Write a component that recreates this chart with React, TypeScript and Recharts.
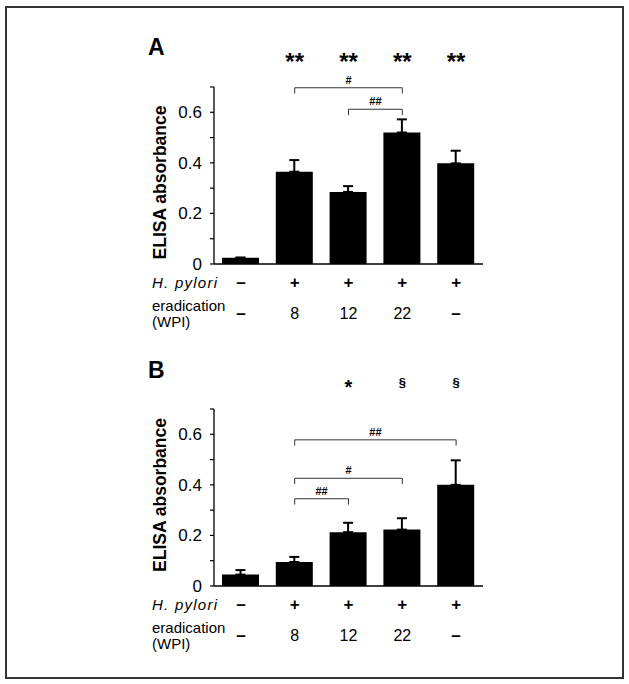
import React from "react";
import {
  BarChart,
  Bar,
  XAxis,
  YAxis,
  ErrorBar,
  ReferenceLine,
  ReferenceDot,
} from "recharts";

// Groups along the x axis
const groups = ["uninfected", "erad8", "erad12", "erad22", "infected"];
const hPyloriMarks = ["–", "+", "+", "+", "+"];
const eradicationWpi = ["–", "8", "12", "22", "–"];
const yTicks = [0, 0.1, 0.2, 0.3, 0.4, 0.5, 0.6, 0.7];

// Panel A
const meanA = [0.025, 0.365, 0.285, 0.52, 0.398];
const semA = [0, 0.046, 0.023, 0.052, 0.05];
const starsA = ["", "**", "**", "**", "**"];
const bracketsA = [
  { from: 1, to: 3, level: 0.697, label: "#" },
  { from: 2, to: 3, level: 0.612, label: "##" },
];

// Panel B
const meanB = [0.045, 0.095, 0.213, 0.223, 0.4];
const semB = [0.018, 0.02, 0.037, 0.045, 0.097];
const starsB = ["", "", "*", "§", "§"];
const bracketsB = [
  { from: 1, to: 4, level: 0.578, label: "##" },
  { from: 1, to: 3, level: 0.426, label: "#" },
  { from: 1, to: 2, level: 0.345, label: "##" },
];

const FONT = '"Liberation Sans", Arial, Helvetica, sans-serif';
const STAR_LEVEL = 0.8;
const DROP = 0.023;

function GroupTick(props: any) {
  const { x, y, index } = props;
  const mark = hPyloriMarks[index];
  const erad = eradicationWpi[index];
  return (
    <g fontFamily={FONT} fill="#000">
      <text x={x} y={y + 23.5} textAnchor="middle" fontSize={17} fontWeight="bold">
        {mark}
      </text>
      <text
        x={x}
        y={y + 55}
        textAnchor="middle"
        fontSize={erad === "–" ? 17 : 16}
        fontWeight={erad === "–" ? "bold" : "normal"}
      >
        {erad}
      </text>
      {index === 0 && (
        <g>
          <text x={152} y={y + 23.5} fontSize={15} fontStyle="italic" textLength={65} lengthAdjust="spacing">
            H. pylori
          </text>
          <text x={152} y={y + 46.5} fontSize={15}>
            eradication
          </text>
          <text x={152} y={y + 63} fontSize={15}>
            (WPI)
          </text>
        </g>
      )}
    </g>
  );
}

function Panel({
  letter,
  means,
  sems,
  stars,
  brackets,
  height,
  top,
  xAxisHeight,
  letterY,
  labelY,
  starSize,
  starShift,
}: {
  letter: string;
  means: number[];
  sems: number[];
  stars: string[];
  brackets: { from: number; to: number; level: number; label: string }[];
  height: number;
  top: number;
  xAxisHeight: number;
  letterY: number;
  labelY: number;
  starSize: number;
  starShift: number;
}) {
  const data = groups.map((g, i) => ({ group: g, mean: means[i], err: [0, sems[i]] }));
  return (
    <div style={{ position: "absolute", left: 0, top }}>
      <BarChart
        width={629}
        height={height}
        data={data}
        margin={{ top: height - xAxisHeight - 177, right: 146, bottom: 0, left: 0 }}
      >
        <XAxis
          dataKey="group"
          height={xAxisHeight}
          axisLine={{ stroke: "#000", strokeWidth: 1.3 }}
          tickLine={false}
          tickSize={0}
          tickMargin={0}
          interval={0}
          tick={<GroupTick />}
        />
        <YAxis
          width={214}
          domain={[0, 0.7]}
          ticks={yTicks}
          interval={0}
          axisLine={{ stroke: "#000", strokeWidth: 1.3 }}
          tickLine={{ stroke: "#000", strokeWidth: 1.2 }}
          tickSize={4}
          tickMargin={8}
          tick={{ fill: "#000", fontSize: 17, fontFamily: FONT }}
          tickFormatter={(v: number) => {
            const t = Math.round(v * 10);
            if (t % 2 !== 0 || t === 7) return "";
            return t === 0 ? "0" : v.toFixed(1);
          }}
          label={{
            content: () => (
              <g fontFamily={FONT} fill="#000" fontWeight="bold">
                <text x={148} y={letterY} fontSize={23}>
                  {letter}
                </text>
                <text
                  transform={`translate(166, ${labelY}) rotate(-90)`}
                  textAnchor="middle"
                  fontSize={17.5}
                >
                  ELISA absorbance
                </text>
              </g>
            ),
          }}
        />
        <Bar dataKey="mean" fill="#000" barSize={37} isAnimationActive={false}>
          <ErrorBar dataKey="err" width={5} stroke="#000" strokeWidth={2} direction="y" />
        </Bar>
        {brackets.map((b, i) => (
          <ReferenceLine
            key={`h-${i}`}
            ifOverflow="visible"
            stroke="#333"
            strokeWidth={1}
            segment={[
              { x: groups[b.from], y: b.level },
              { x: groups[b.to], y: b.level },
            ]}
            label={{
              value: b.label,
              position: "top",
              offset: 4,
              fontSize: 11,
              fontWeight: "bold",
              fill: "#000",
              fontFamily: FONT,
            }}
          />
        ))}
        {brackets.map((b, i) => (
          <ReferenceLine
            key={`l-${i}`}
            ifOverflow="visible"
            stroke="#333"
            strokeWidth={1}
            segment={[
              { x: groups[b.from], y: b.level },
              { x: groups[b.from], y: b.level - DROP },
            ]}
          />
        ))}
        {brackets.map((b, i) => (
          <ReferenceLine
            key={`r-${i}`}
            ifOverflow="visible"
            stroke="#333"
            strokeWidth={1}
            segment={[
              { x: groups[b.to], y: b.level },
              { x: groups[b.to], y: b.level - DROP },
            ]}
          />
        ))}
        {stars.map((s, i) =>
          s ? (
            <ReferenceDot
              key={`s-${i}`}
              x={groups[i]}
              y={STAR_LEVEL}
              ifOverflow="visible"
              shape={(p: any) => (
                <text
                  x={p.cx}
                  y={p.cy + (s === "§" ? 3 : starShift)}
                  textAnchor="middle"
                  fontSize={s === "§" ? 13 : starSize}
                  fontWeight="bold"
                  fontFamily={FONT}
                  fill="#000"
                >
                  {s}
                </text>
              )}
            />
          ) : null
        )}
      </BarChart>
    </div>
  );
}

export default function App() {
  return (
    <div
      style={{
        position: "absolute",
        left: 0,
        top: 0,
        width: 629,
        height: 684,
        background: "#fff",
        fontFamily: FONT,
      }}
    >
      <div
        style={{
          position: "absolute",
          left: 5,
          top: 6,
          width: 619,
          height: 673,
          border: "2px solid #333",
          boxSizing: "border-box",
        }}
      />
      <Panel
        letter="A"
        means={meanA}
        sems={semA}
        stars={starsA}
        brackets={bracketsA}
        height={340}
        top={0}
        xAxisHeight={76}
        letterY={55}
        labelY={182.5}
        starSize={24}
        starShift={8}
      />
      <Panel
        letter="B"
        means={meanB}
        sems={semB}
        stars={starsB}
        brackets={bracketsB}
        height={344}
        top={340}
        xAxisHeight={98}
        letterY={38}
        labelY={155}
        starSize={20}
        starShift={10.5}
      />
    </div>
  );
}
